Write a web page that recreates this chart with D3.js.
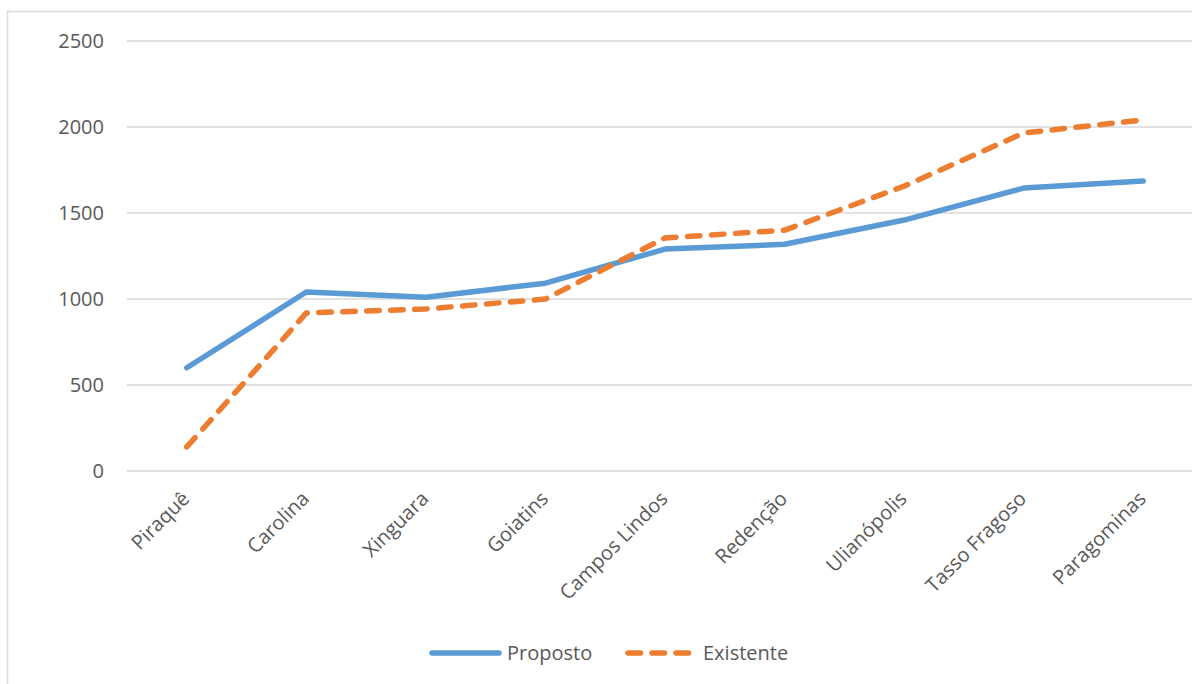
<!DOCTYPE html>
<html>
<head>
<meta charset="utf-8">
<script src="https://cdn.jsdelivr.net/npm/d3@7"></script>
<style>
  body { margin: 0; background: #fff; }
  svg { display: block; font-family: "Open Sans", sans-serif; }
</style>
</head>
<body>
<svg id="chart"></svg>
<script>
// categories and series
const cidades = ["Piraquê", "Carolina", "Xinguara", "Goiatins", "Campos Lindos", "Redenção", "Ulianópolis", "Tasso Fragoso", "Paragominas"];
const proposto = [600, 1041, 1010, 1092, 1290, 1318, 1459, 1645, 1686];
const existente = [140, 919, 942, 1000, 1355, 1400, 1656, 1965, 2041];
const yTicks = [0, 500, 1000, 1500, 2000, 2500];

const width = 1192, height = 684;
const svg = d3.select("#chart").attr("width", width).attr("height", height);

// outer chart frame (right/bottom fall outside the picture)
svg.append("rect")
  .attr("x", 7.5).attr("y", 11.5)
  .attr("width", 1210).attr("height", 700)
  .attr("fill", "none")
  .attr("stroke", "#d9d9d9")
  .attr("stroke-width", 1.5);

const xScale = d3.scaleBand().domain(cidades).range([127, 1203]);
const yScale = d3.scaleLinear().domain([0, 2500]).range([471, 41]);
const cx = (d) => xScale(d) + xScale.bandwidth() / 2;

// gridlines
svg.append("g")
  .selectAll("line")
  .data(yTicks)
  .enter()
  .append("line")
  .attr("x1", 127).attr("x2", 1203)
  .attr("y1", (d) => yScale(d)).attr("y2", (d) => yScale(d))
  .attr("stroke", "#d9d9d9")
  .attr("stroke-width", 1.5);

// y labels
svg.append("g")
  .selectAll("text")
  .data(yTicks)
  .enter()
  .append("text")
  .attr("x", 104)
  .attr("y", (d) => yScale(d))
  .attr("dy", "0.35em")
  .attr("text-anchor", "end")
  .attr("font-size", 20)
  .attr("fill", "#595959")
  .text((d) => d);

// x labels, rotated
svg.append("g")
  .selectAll("text")
  .data(cidades)
  .enter()
  .append("text")
  .attr("transform", (d) => `translate(${cx(d) - 1}, ${495}) rotate(-45)`)
  .attr("text-anchor", "end")
  .attr("dy", "0.35em")
  .attr("font-size", 20)
  .attr("fill", "#595959")
  .text((d) => d);

const line = d3.line()
  .x((d, i) => cx(cidades[i]))
  .y((d) => yScale(d));

svg.append("path")
  .datum(proposto)
  .attr("d", line)
  .attr("fill", "none")
  .attr("stroke", "#5b9bd5")
  .attr("stroke-width", 5.5)
  .attr("stroke-linecap", "round")
  .attr("stroke-linejoin", "round");

svg.append("path")
  .datum(existente)
  .attr("d", line)
  .attr("fill", "none")
  .attr("stroke", "#ed7d31")
  .attr("stroke-width", 5.5)
  .attr("stroke-dasharray", "12.5,11.5")
  .attr("stroke-linecap", "round")
  .attr("stroke-linejoin", "round");

// legend
const legend = svg.append("g");
const items = [
  { name: "Proposto", color: "#5b9bd5", dash: null, x: 432 },
  { name: "Existente", color: "#ed7d31", dash: "12.5,11.5", x: 628 }
];
items.forEach(function (it) {
  legend.append("line")
    .attr("x1", it.x).attr("x2", it.x + 67)
    .attr("y1", 653).attr("y2", 653)
    .attr("stroke", it.color)
    .attr("stroke-width", 5.5)
    .attr("stroke-linecap", "round")
    .attr("stroke-dasharray", it.dash);
  legend.append("text")
    .attr("x", it.x + 75)
    .attr("y", 653)
    .attr("dy", "0.35em")
    .attr("font-size", 20)
    .attr("fill", "#595959")
    .text(it.name);
});
</script>
</body>
</html>
